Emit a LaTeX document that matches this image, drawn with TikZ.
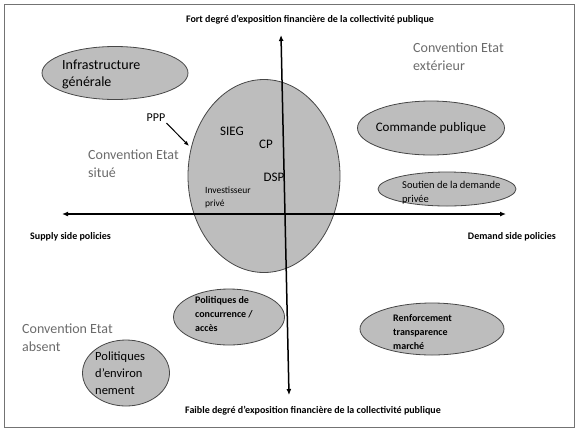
\documentclass[tikz,border=0pt]{standalone}
\usepackage{fontspec}
\setmainfont{Carlito}
\usetikzlibrary{arrows.meta,shapes.geometric}
\begin{document}
\begin{tikzpicture}[x=1pt,y=-1pt,
  blob/.style={ellipse, draw=black!72, fill=black!26, line width=0.8pt, inner sep=0pt},
  axisline/.style={line width=1.5pt, {Latex[length=6pt,width=5pt]}-{Latex[length=6pt,width=5pt]}},
  axlabel/.style={font=\fontsize{10}{12}\selectfont\bfseries, inner sep=0pt},
  conv/.style={text=black!58, font=\fontsize{14}{18}\selectfont, align=left, anchor=base west, inner sep=0pt},
  big/.style={font=\fontsize{14}{17}\selectfont, align=left, anchor=base west, inner sep=0pt},
  mid/.style={font=\fontsize{13}{16}\selectfont, inner sep=0pt},
  small/.style={font=\fontsize{10.5}{14}\selectfont, align=left, anchor=base west, inner sep=0pt},
  smallb/.style={font=\fontsize{10}{14}\selectfont\bfseries, align=left, anchor=base west, inner sep=0pt},
]
\useasboundingbox (0,0) rectangle (580,432);
\draw[black!55, line width=1pt] (4,4) rectangle (574,427);

% ellipses
\node[blob, minimum width=146pt, minimum height=53pt] (infra) at (115,73) {};
\node[blob, minimum width=152pt, minimum height=193pt] (ppp) at (264,176) {};
\node[blob, minimum width=147pt, minimum height=54pt] (cmd) at (431,128) {};
\node[blob, minimum width=138pt, minimum height=34pt] (sout) at (447,189) {};
\node[blob, minimum width=111pt, minimum height=56pt] (conc) at (229,317) {};
\node[blob, minimum width=144pt, minimum height=52pt] (renf) at (432,329) {};
\node[blob, minimum width=87pt, minimum height=66pt] (env) at (126,373) {};

% axes
\coordinate (vt) at (281,35);
\coordinate (vb) at (289,395);
\coordinate (hl) at (62,214);
\coordinate (hr) at (506,214);
\draw[axisline] (vb) -- (vt);
\draw[axisline] (hl) -- (hr);

% axis labels
\node[axlabel] (top) at (310,20) {Fort degré d’exposition financière de la collectivité publique};
\node[axlabel] (bot) at (313,411) {Faible degré d’exposition financière de la collectivité publique};
\node[axlabel, anchor=west] (supply) at (30,237) {Supply side policies};
\node[axlabel, anchor=east] (demand) at (556,237) {Demand side policies};

% convention labels (anchor = baseline of last line)
\node[conv] (cext) at (413,70) {Convention Etat\\extérieur};
\node[conv] (csit) at (88,177) {Convention Etat\\situé};
\node[conv] (cabs) at (22,351) {Convention Etat\\absent};

% texts in ellipses
\node[big] (tinfra) at (62,86) {Infrastructure\\générale};
\node[mid] (tcmd) at (431,128) {Commande publique};
\node[small] (tsout) at (402,202) {Soutien de la demande\\privée};
\node[smallb] (tconc) at (195,331) {Politiques de\\concurrence /\\accès};
\node[smallb] (trenf) at (393,349) {Renforcement\\transparence\\marché};
\node[font=\fontsize{12.5}{17}\selectfont, align=left, anchor=base west, inner sep=0pt] (tenv) at (95,394) {Politiques\\d’environ\\nement};

\node[mid] (sieg) at (232,131) {SIEG};
\node[mid] (cp) at (266,144) {CP};
\node[mid] (dsp) at (274,177) {DSP};
\node[font=\fontsize{9.5}{13}\selectfont, align=left, anchor=base west, inner sep=0pt] (inv) at (205,206) {Investisseur\\privé};

% PPP
\node[font=\fontsize{12}{14}\selectfont, inner sep=1pt] (pppl) at (156,118) {PPP};
\coordinate (pppt) at (189,146);
\draw[line width=1pt, -{Latex[length=5pt,width=4pt]}] (pppl.south east) -- (pppt);
\end{tikzpicture}
\end{document}
